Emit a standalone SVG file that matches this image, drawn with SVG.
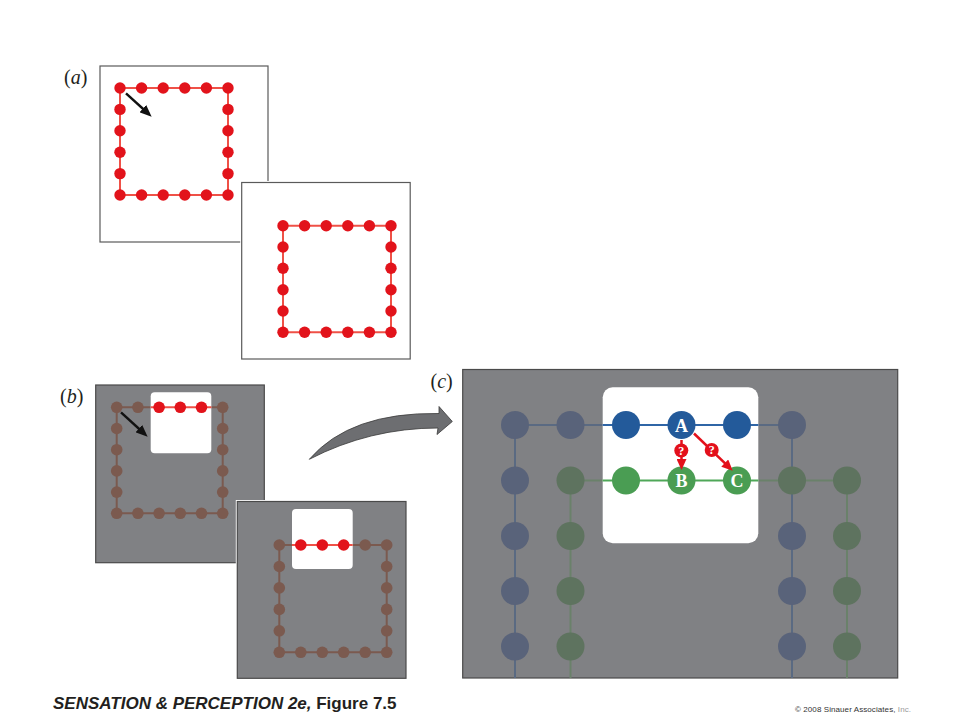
<svg xmlns="http://www.w3.org/2000/svg" width="960" height="720" viewBox="0 0 960 720">
<defs>
<style>
.frameW{fill:#ffffff;stroke:#5a5a5a;stroke-width:1.2}
.frameG{fill:#808184;stroke:#4a4a4a;stroke-width:1.2}
.halo{fill:none;stroke:#ffffff;stroke-width:3}
.rd{fill:#e2131b}
.rl{fill:none;stroke:#ef5147;stroke-width:2}
.bd{fill:#7b5a4f}
.bl{fill:none;stroke:#7b5a4f;stroke-width:2}
.win{fill:#ffffff}
.lbl{font-family:"Liberation Serif",serif;font-size:20px;fill:#231f20}
.blk{fill:none;stroke:#111;stroke-width:2.4}
.dimB{fill:#59637a}
.dimG{fill:#5e735f}
.dimBL{fill:none;stroke:#5a6a82;stroke-width:2}
.dimGL{fill:none;stroke:#6a816a;stroke-width:2}
.bB{fill:#235a9a}
.bG{fill:#4a9d53}
.bBL{fill:none;stroke:#2f65a6;stroke-width:2}
.bGL{fill:none;stroke:#4fa758;stroke-width:2}
.nl{font-family:"Liberation Serif",serif;font-weight:bold;font-size:18px;fill:#ffffff;text-anchor:middle}
.red{fill:none;stroke:#e3101b;stroke-width:2.5}
.qc{fill:#e3101b}
.qt{font-family:"Liberation Serif",serif;font-weight:bold;font-size:12px;fill:#ffffff;text-anchor:middle}
</style>
<marker id="ab" markerUnits="userSpaceOnUse" markerWidth="12" markerHeight="10" viewBox="0 0 12 10" refX="8" refY="5" orient="auto"><path d="M0,0 L12,5 L0,10 z" fill="#111"/></marker>
<marker id="ar" markerUnits="userSpaceOnUse" markerWidth="11" markerHeight="10" viewBox="0 0 11 10" refX="7" refY="5" orient="auto"><path d="M0,0 L11,5 L0,10 z" fill="#e3101b"/></marker>
</defs>
<rect width="960" height="720" fill="#ffffff"/>

<!-- Panel a -->
<g id="label-a"><text class="lbl" x="64" y="83.5">(<tspan font-style="italic">a</tspan>)</text></g>
<g id="panel-a1">
<rect class="frameW" x="100" y="66" width="168" height="176"/>
<path class="rl" d="M120,88 H228 V195 H120 Z"/>
<g class="rd">
<circle cx="120" cy="88" r="5.7"/><circle cx="141.6" cy="88" r="5.7"/><circle cx="163.2" cy="88" r="5.7"/><circle cx="184.8" cy="88" r="5.7"/><circle cx="206.4" cy="88" r="5.7"/><circle cx="228" cy="88" r="5.7"/>
<circle cx="120" cy="195" r="5.7"/><circle cx="141.6" cy="195" r="5.7"/><circle cx="163.2" cy="195" r="5.7"/><circle cx="184.8" cy="195" r="5.7"/><circle cx="206.4" cy="195" r="5.7"/><circle cx="228" cy="195" r="5.7"/>
<circle cx="120" cy="109.4" r="5.7"/><circle cx="120" cy="130.8" r="5.7"/><circle cx="120" cy="152.2" r="5.7"/><circle cx="120" cy="173.6" r="5.7"/>
<circle cx="228" cy="109.4" r="5.7"/><circle cx="228" cy="130.8" r="5.7"/><circle cx="228" cy="152.2" r="5.7"/><circle cx="228" cy="173.6" r="5.7"/>
</g>
<path class="blk" d="M126,93.3 L148.7,114" marker-end="url(#ab)"/>
</g>
<g id="panel-a2">
<rect class="halo" x="241.7" y="182.5" width="168.5" height="176.5"/>
<rect class="frameW" x="241.7" y="182.5" width="168.5" height="176.5"/>
<path class="rl" d="M283,225.7 H391 V332.3 H283 Z"/>
<g class="rd">
<circle cx="283" cy="225.7" r="5.7"/><circle cx="304.6" cy="225.7" r="5.7"/><circle cx="326.2" cy="225.7" r="5.7"/><circle cx="347.8" cy="225.7" r="5.7"/><circle cx="369.4" cy="225.7" r="5.7"/><circle cx="391" cy="225.7" r="5.7"/>
<circle cx="283" cy="332.3" r="5.7"/><circle cx="304.6" cy="332.3" r="5.7"/><circle cx="326.2" cy="332.3" r="5.7"/><circle cx="347.8" cy="332.3" r="5.7"/><circle cx="369.4" cy="332.3" r="5.7"/><circle cx="391" cy="332.3" r="5.7"/>
<circle cx="283" cy="247" r="5.7"/><circle cx="283" cy="268.3" r="5.7"/><circle cx="283" cy="289.7" r="5.7"/><circle cx="283" cy="311" r="5.7"/>
<circle cx="391" cy="247" r="5.7"/><circle cx="391" cy="268.3" r="5.7"/><circle cx="391" cy="289.7" r="5.7"/><circle cx="391" cy="311" r="5.7"/>
</g>
</g>

<!-- Panel b -->
<g id="label-b"><text class="lbl" x="60" y="403.3">(<tspan font-style="italic">b</tspan>)</text></g>
<g id="panel-b1">
<rect class="frameG" x="95.7" y="385" width="168.6" height="177.7"/>
<path class="bl" d="M116.7,407.3 H222.7 V513.3 H116.7 Z"/>
<g class="bd">
<circle cx="116.7" cy="407.3" r="5.8"/><circle cx="137.9" cy="407.3" r="5.8"/><circle cx="222.7" cy="407.3" r="5.8"/>
<circle cx="116.7" cy="513.3" r="5.8"/><circle cx="137.9" cy="513.3" r="5.8"/><circle cx="159.1" cy="513.3" r="5.8"/><circle cx="180.3" cy="513.3" r="5.8"/><circle cx="201.5" cy="513.3" r="5.8"/><circle cx="222.7" cy="513.3" r="5.8"/>
<circle cx="116.7" cy="428.5" r="5.8"/><circle cx="116.7" cy="449.7" r="5.8"/><circle cx="116.7" cy="470.9" r="5.8"/><circle cx="116.7" cy="492.1" r="5.8"/>
<circle cx="222.7" cy="428.5" r="5.8"/><circle cx="222.7" cy="449.7" r="5.8"/><circle cx="222.7" cy="470.9" r="5.8"/><circle cx="222.7" cy="492.1" r="5.8"/>
</g>
<rect class="win" x="150.7" y="392.3" width="60.6" height="61" rx="4"/>
<path class="rl" d="M150.7,407.3 H211.3"/>
<g class="rd"><circle cx="159.1" cy="407.3" r="5.8"/><circle cx="180.3" cy="407.3" r="5.8"/><circle cx="201.5" cy="407.3" r="5.8"/></g>
<path class="blk" d="M121,412.3 L144.7,434" marker-end="url(#ab)"/>
</g>
<g id="panel-b2">
<rect class="halo" x="237.3" y="501.5" width="168.7" height="176.8"/>
<rect class="frameG" x="237.3" y="501.5" width="168.7" height="176.8"/>
<path class="bl" d="M279.3,545 H386.7 V652.3 H279.3 Z"/>
<g class="bd">
<circle cx="279.3" cy="545" r="5.8"/><circle cx="365.2" cy="545" r="5.8"/><circle cx="386.7" cy="545" r="5.8"/>
<circle cx="279.3" cy="652.3" r="5.8"/><circle cx="300.8" cy="652.3" r="5.8"/><circle cx="322.3" cy="652.3" r="5.8"/><circle cx="343.7" cy="652.3" r="5.8"/><circle cx="365.2" cy="652.3" r="5.8"/><circle cx="386.7" cy="652.3" r="5.8"/>
<circle cx="279.3" cy="566.5" r="5.8"/><circle cx="279.3" cy="587.9" r="5.8"/><circle cx="279.3" cy="609.4" r="5.8"/><circle cx="279.3" cy="630.8" r="5.8"/>
<circle cx="386.7" cy="566.5" r="5.8"/><circle cx="386.7" cy="587.9" r="5.8"/><circle cx="386.7" cy="609.4" r="5.8"/><circle cx="386.7" cy="630.8" r="5.8"/>
</g>
<rect class="win" x="292" y="509" width="60.7" height="60" rx="4"/>
<path class="rl" d="M292,545 H352.7"/>
<g class="rd"><circle cx="300.8" cy="545" r="5.8"/><circle cx="322.3" cy="545" r="5.8"/><circle cx="343.7" cy="545" r="5.8"/></g>
</g>

<!-- big curved arrow -->
<g id="connectors">
<path id="curved-arrow" d="M309.3,459.3 Q350,412 439,413.5 L439,406.5 L452.3,421.5 L437,434.5 L438,428 Q370,428 309.3,459.3 Z" fill="#6d6e71" stroke="#3a3a3a" stroke-width="0.8"/>
</g>

<!-- Panel c -->
<g id="label-c"><text class="lbl" x="430.5" y="388">(<tspan font-style="italic">c</tspan>)</text></g>
<g id="panel-c">
<rect class="frameG" x="462.7" y="369.5" width="435" height="308.5"/>
<g id="c-lines">
<path class="dimBL" d="M515,425 H792 M515,425 V678 M792,425 V678"/>
<path class="dimGL" d="M570.5,480.5 H847 M570.5,480.5 V678 M847,480.5 V678"/>
</g>
<g id="c-dim-blue" class="dimB">
<circle cx="515" cy="425" r="14"/><circle cx="570.5" cy="425" r="14"/><circle cx="792" cy="425" r="14"/>
<circle cx="515" cy="480.5" r="14"/><circle cx="515" cy="536" r="14"/><circle cx="515" cy="591" r="14"/><circle cx="515" cy="646.5" r="14"/>
<circle cx="792" cy="536" r="14"/><circle cx="792" cy="591" r="14"/><circle cx="792" cy="646.5" r="14"/>
</g>
<g id="c-dim-green" class="dimG">
<circle cx="570.5" cy="480.5" r="14"/><circle cx="792" cy="480.5" r="14"/><circle cx="847" cy="480.5" r="14"/>
<circle cx="570.5" cy="536" r="14"/><circle cx="570.5" cy="591" r="14"/><circle cx="570.5" cy="646.5" r="14"/>
<circle cx="847" cy="536" r="14"/><circle cx="847" cy="591" r="14"/><circle cx="847" cy="646.5" r="14"/>
</g>
<rect class="win" x="602.7" y="387.3" width="155.6" height="156" rx="10"/>
<path class="bBL" d="M602.7,425 H758.3"/>
<path class="bGL" d="M602.7,480.5 H758.3"/>
<g id="node-blue1"><circle class="bB" cx="626" cy="425" r="14"/></g>
<g id="node-A"><circle class="bB" cx="681.5" cy="425" r="14"/><text class="nl" x="681.5" y="432">A</text></g>
<g id="node-blue3"><circle class="bB" cx="737" cy="425" r="14"/></g>
<g id="node-green1"><circle class="bG" cx="626" cy="480.5" r="14"/></g>
<g id="node-B"><circle class="bG" cx="681.5" cy="480.5" r="14"/><text class="nl" x="681.5" y="487">B</text></g>
<g id="node-C"><circle class="bG" cx="737" cy="480.5" r="14"/><text class="nl" x="737" y="487">C</text></g>
<g id="red-arrows">
<path class="red" d="M681.5,440 V466" marker-end="url(#ar)"/>
<path class="red" d="M694,433.5 L729.8,467.9" marker-end="url(#ar)"/>
<circle class="qc" cx="681.3" cy="450.5" r="7"/><text class="qt" x="681.3" y="454.8">?</text>
<circle class="qc" cx="711.7" cy="450" r="7"/><text class="qt" x="711.7" y="454.3">?</text>
</g>
</g>

<!-- footer -->
<text x="53" y="709" font-family="'Liberation Sans',Arial,sans-serif" font-weight="bold" font-size="17" fill="#231f20"><tspan font-style="italic">SENSATION &amp; PERCEPTION 2e,</tspan> Figure 7.5</text>
<text x="795" y="712" font-family="'Liberation Sans',Arial,sans-serif" font-size="8" fill="#333333" textLength="116">© 2008 Sinauer Associates, <tspan fill="#9a9a9a">Inc.</tspan></text>
</svg>
